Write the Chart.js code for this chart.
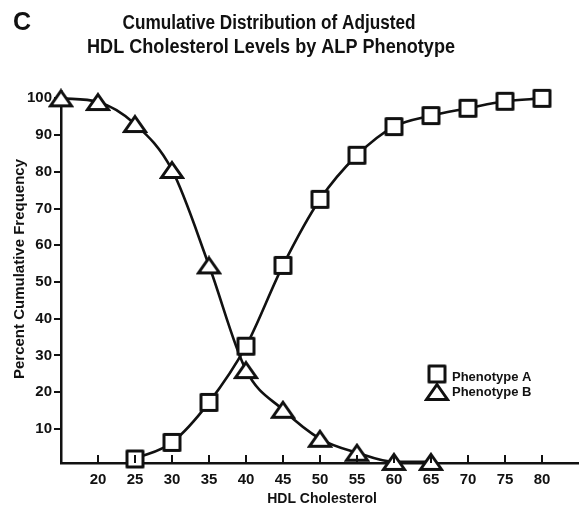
<!DOCTYPE html>
<html>
<head>
<meta charset="utf-8">
<script src="https://cdn.jsdelivr.net/npm/chart.js@4/dist/chart.umd.min.js"></script>
<style>
  html, body { margin: 0; padding: 0; background: #fff; }
  #wrap { width: 579px; height: 506px; position: relative; }
</style>
</head>
<body>
<div id="wrap"><canvas id="c" width="579" height="506"></canvas></div>
<script>
// HDL cholesterol levels (mg/dl) at which each phenotype was sampled
const hdlA = [25, 30, 35, 40, 45, 50, 55, 60, 65, 70, 75, 80];
const hdlB = [15, 20, 25, 30, 35, 40, 45, 50, 55, 60, 65];
// Percent cumulative frequency
const phenotypeA = [1.8, 6.3, 17.2, 32.5, 54.5, 72.5, 84.5, 92.3, 95.3, 97.3, 99.2, 100];
const phenotypeB = [100, 99, 93, 80.5, 54.5, 26, 15.2, 7.3, 3.5, 1, 1];
// Axis tick labels
const xTicks = [20, 25, 30, 35, 40, 45, 50, 55, 60, 65, 70, 75, 80];
const yTicks = [10, 20, 30, 40, 50, 60, 70, 80, 90, 100];

const seriesNames = ['Phenotype A', 'Phenotype B'];
const titleLines = ['Cumulative Distribution of Adjusted', 'HDL Cholesterol Levels by ALP Phenotype'];
const xTitle = 'HDL Cholesterol';
const yTitle = 'Percent Cumulative Frequency';

const INK = '#111';
const FAMILY = '"Liberation Sans", Arial, sans-serif';

// Open square marker
function makeSquare() {
  const cv = document.createElement('canvas');
  cv.width = 21; cv.height = 21;
  const g = cv.getContext('2d');
  g.fillStyle = '#fff';
  g.strokeStyle = INK;
  g.lineWidth = 3;
  g.lineJoin = 'round';
  g.beginPath();
  g.rect(2.5, 2.5, 16, 16);
  g.fill();
  g.stroke();
  return cv;
}
// Open, slightly flattened triangle marker
function makeTriangle() {
  const cv = document.createElement('canvas');
  cv.width = 26; cv.height = 20;
  const g = cv.getContext('2d');
  g.fillStyle = '#fff';
  g.strokeStyle = INK;
  g.lineWidth = 3;
  g.lineJoin = 'miter';
  g.beginPath();
  g.moveTo(13, 2.5);
  g.lineTo(23.5, 17.5);
  g.lineTo(2.5, 17.5);
  g.closePath();
  g.fill();
  g.stroke();
  return cv;
}
const squareMark = makeSquare();
const triMark = makeTriangle();

const toPoints = (xs, ys) => xs.map((x, i) => ({ x: x, y: ys[i] }));

// Titles, axis titles, panel letter and the in-plot legend
const decorations = {
  id: 'decorations',
  afterDraw(chart) {
    const ctx = chart.ctx;
    ctx.save();
    ctx.fillStyle = INK;
    ctx.textBaseline = 'alphabetic';
    ctx.textAlign = 'left';
    ctx.font = 'bold 25px ' + FAMILY;
    ctx.fillText('C', 13, 30);

    ctx.textAlign = 'center';
    ctx.font = 'bold 20px ' + FAMILY;
    ctx.fillText(titleLines[0], 269, 29, 293);
    ctx.fillText(titleLines[1], 271, 53, 368);

    // axis titles
    ctx.font = 'bold 14px ' + FAMILY;
    ctx.fillText(xTitle, 322, 503, 120);
    ctx.save();
    ctx.translate(24, 269);
    ctx.rotate(-Math.PI / 2);
    ctx.font = 'bold 15px ' + FAMILY;
    ctx.fillText(yTitle, 0, 0, 228);
    ctx.restore();

    // legend
    ctx.drawImage(squareMark, 437 - squareMark.width / 2, 374 - squareMark.height / 2);
    ctx.drawImage(triMark, 437 - triMark.width / 2, 392 - triMark.height / 2);
    ctx.textAlign = 'left';
    ctx.font = 'bold 13px ' + FAMILY;
    ctx.fillText(seriesNames[0], 452, 381, 84);
    ctx.fillText(seriesNames[1], 452, 396, 84);
    ctx.restore();
  }
};

// Short inward tick marks on the HDL axis
const innerTicks = {
  id: 'innerTicks',
  afterDraw(chart) {
    const ctx = chart.ctx;
    const xs = chart.scales.x;
    const bottom = chart.chartArea.bottom;
    ctx.save();
    ctx.strokeStyle = INK;
    ctx.lineWidth = 2;
    xTicks.forEach(v => {
      const px = Math.round(xs.getPixelForValue(v));
      ctx.beginPath();
      ctx.moveTo(px, bottom);
      ctx.lineTo(px, bottom - 8);
      ctx.stroke();
    });
    ctx.restore();
  }
};

new Chart(document.getElementById('c'), {
  type: 'line',
  data: {
    datasets: [
      {
        label: seriesNames[0],
        data: toPoints(hdlA, phenotypeA),
        borderColor: INK,
        borderWidth: 2.6,
        pointStyle: squareMark,
        cubicInterpolationMode: 'monotone',
        fill: false
      },
      {
        label: seriesNames[1],
        data: toPoints(hdlB, phenotypeB),
        borderColor: INK,
        borderWidth: 2.6,
        pointStyle: triMark,
        cubicInterpolationMode: 'monotone',
        fill: false
      }
    ]
  },
  options: {
    responsive: false,
    animation: false,
    devicePixelRatio: 1,
    clip: false,
    layout: { autoPadding: false, padding: { top: 91, right: 0, left: 0, bottom: 0 } },
    plugins: {
      legend: { display: false },
      tooltip: { enabled: false },
      title: { display: false }
    },
    scales: {
      x: {
        type: 'linear',
        min: 15,
        max: 85,
        afterBuildTicks: s => { s.ticks = xTicks.map(v => ({ value: v })); },
        afterFit: s => { s.height = 43; s.paddingLeft = 0; s.paddingRight = 0; },
        border: { color: INK, width: 2.5 },
        grid: { display: false, drawTicks: false },
        ticks: {
          color: INK,
          padding: 8,
          maxRotation: 0,
          autoSkip: false,
          font: { family: FAMILY, size: 15, weight: 'bold' }
        }
      },
      y: {
        min: 0.7,
        max: 102,
        afterBuildTicks: s => { s.ticks = yTicks.map(v => ({ value: v })); },
        afterFit: s => { s.width = 61; },
        border: { color: INK, width: 2.5 },
        grid: { drawOnChartArea: false, drawTicks: true, tickLength: 7, color: INK, lineWidth: 2 },
        ticks: {
          color: INK,
          padding: 2,
          autoSkip: false,
          font: { family: FAMILY, size: 15, weight: 'bold' }
        }
      }
    }
  },
  plugins: [decorations, innerTicks]
});
</script>
</body>
</html>
